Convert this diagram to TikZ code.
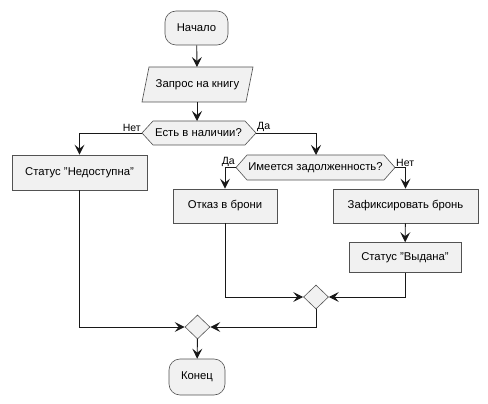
\documentclass[tikz,border=0pt]{standalone}
\usepackage{fontspec}
\setmainfont{Liberation Sans}
\usetikzlibrary{arrows.meta,shapes.geometric}
\definecolor{boxfill}{HTML}{F1F1F1}
\definecolor{boxline}{HTML}{181818}
\tikzset{
  shp/.style={fill=boxfill,draw=boxline!75,line width=0.6pt},
  box/.style={shp,rectangle,inner sep=0pt,font=\fontsize{11.3}{13}\selectfont},
  term/.style={box,rounded corners=11pt},
  txt/.style={inner sep=0pt,font=\fontsize{11.3}{13}\selectfont},
  merge/.style={shp,diamond,inner sep=0pt,minimum width=25pt,minimum height=24pt},
  lbl/.style={inner sep=1pt,font=\fontsize{10.5}{12}\selectfont},
  arr/.style={draw=boxline,line width=0.9pt,-{Stealth[length=10pt,width=10pt,inset=4pt]}},
  ln/.style={draw=boxline,line width=0.9pt}
}
\begin{document}
\begin{tikzpicture}[x=1pt,y=-1pt]
\useasboundingbox (0,0) rectangle (488,404);
% start
\node[term,minimum width=63pt,minimum height=34pt] (start) at (196.5,28) {Начало};
% input parallelogram
\draw[shp] (142,102) -- (149,67) -- (253,67) -- (246,102) -- cycle;
\node[txt] (q) at (197.5,84.5) {Запрос на книгу};
\coordinate (qn) at (197,67);
\coordinate (qs) at (197,102);
% decision 1
\draw[shp] (142,133) -- (153,121) -- (245,121) -- (256,133) -- (245,145) -- (153,145) -- cycle;
\node[txt] (d1) at (198.5,133) {Есть в наличии?};
\coordinate (d1n) at (197,121);
\coordinate (d1w) at (142,133);
\coordinate (d1e) at (256,133);
% left box
\node[box,minimum width=135pt,minimum height=35pt] (nd) at (79.5,172.5) {Статус "Недоступна"};
% decision 2
\draw[shp] (236,167.5) -- (247,155) -- (384,155) -- (395,167.5) -- (384,180) -- (247,180) -- cycle;
\node[txt] (d2) at (315.5,167.5) {Имеется задолженность?};
\coordinate (d2n) at (316,155);
\coordinate (d2w) at (236,167.5);
\coordinate (d2e) at (395,167.5);
% boxes
\node[box,minimum width=104pt,minimum height=34pt] (ot) at (225,206) {Отказ в брони};
\node[box,minimum width=145pt,minimum height=34pt] (zb) at (405.5,206) {Зафиксировать бронь};
\node[box,minimum width=112pt,minimum height=30pt] (sv) at (405,257.5) {Статус "Выдана"};
% merges
\node[merge] (m1) at (316,297) {};
\node[merge] (m2) at (197.5,327) {};
% end
\node[term,minimum width=56pt,minimum height=36pt] (end) at (197,377) {Конец};
% connectors
\draw[arr] (start) -- (qn);
\draw[arr] (qs) -- (d1n);
\draw[arr] (d1w) -| (nd.north);
\draw[arr] (d1e) -| (d2n);
\draw[arr] (d2w) -| (ot.north);
\draw[arr] (d2e) -| (zb.north);
\draw[arr] (zb) -- (sv);
\draw[arr] (ot.south) |- (m1.west);
\draw[arr] (sv.south) |- (m1.east);
\draw[arr] (nd.south) |- (m2.west);
\draw[arr] (m1.south) |- (m2.east);
\draw[arr] (m2) -- (end);
% labels
\node[lbl,anchor=south east] at (d1w) {Нет};
\node[lbl,anchor=south west] at (d1e) {Да};
\node[lbl,anchor=south east] at (d2w) {Да};
\node[lbl,anchor=south west] at (d2e) {Нет};
\end{tikzpicture}
\end{document}
